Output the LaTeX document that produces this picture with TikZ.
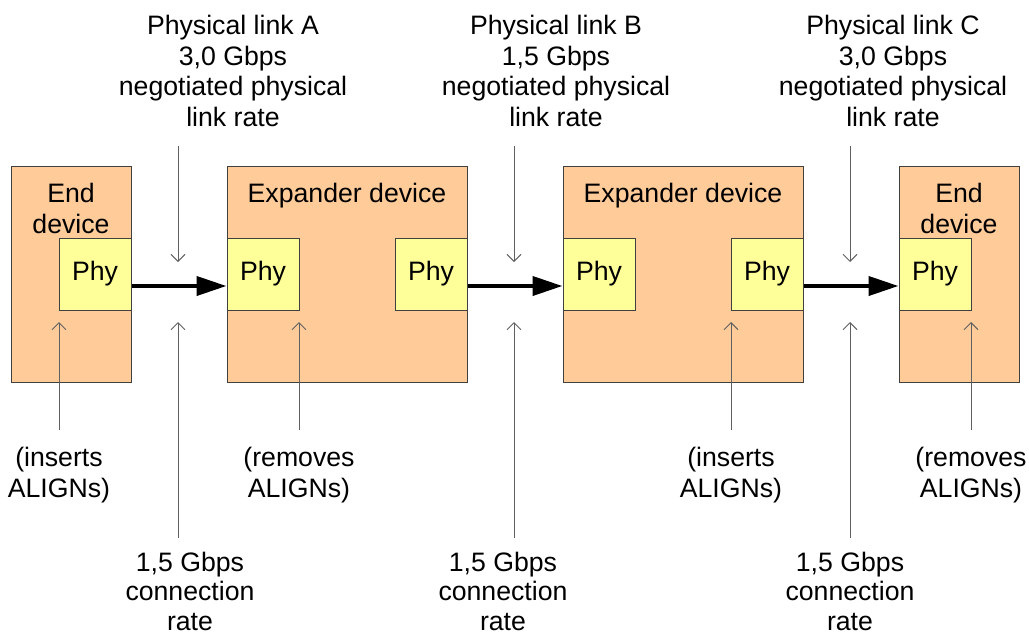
\documentclass[tikz,border=0pt]{standalone}
\usepackage{fontspec}
\setmainfont{Liberation Sans}
\usetikzlibrary{arrows.meta}
\definecolor{devfill}{HTML}{FFCC99}
\definecolor{phyfill}{HTML}{FFFF99}
\definecolor{edge}{HTML}{404040}
\definecolor{thin}{HTML}{606060}
\tikzset{
  txt/.style={font=\fontsize{20}{23}\selectfont, align=center, inner sep=0pt, anchor=north},
  btxt/.style={txt, font=\fontsize{20}{22}\selectfont},
  endbox/.style={draw=edge, line width=0.75pt, fill=devfill, minimum width=90pt, minimum height=162pt, inner sep=0pt},
  expbox/.style={endbox, minimum width=180pt},
  phybox/.style={draw=edge, line width=0.75pt, fill=phyfill, minimum width=54pt, minimum height=54pt, inner sep=0pt, font=\fontsize{20}{23}\selectfont},
  bigarrow/.style={line width=3pt, -{Triangle[length=22.5pt,width=14.25pt]}, shorten >=0pt},
  thinarrow/.style={draw=thin, line width=0.75pt, -{Straight Barb[length=5.25pt,width=10.5pt]}}
}
\begin{document}
\begin{tikzpicture}[x=0.75pt, y=-0.75pt]
\useasboundingbox (0,0) rectangle (1029,636);
% devices
\node[endbox] (ed1) at (71,274) {};
\node[expbox] (ex1) at (347,274) {};
\node[expbox] (ex2) at (683,274) {};
\node[endbox] (ed2) at (959,274) {};
% titles
\node[txt] (ed1t) at (71,183) {End\\device};
\node[txt] (ex1t) at (347,183) {Expander device};
\node[txt] (ex2t) at (683,183) {Expander device};
\node[txt] (ed2t) at (959,183) {End\\device};
% phys
\node[phybox] (p1) at (95,274) {Phy};
\node[phybox] (p2) at (263,274) {Phy};
\node[phybox] (p3) at (431,274) {Phy};
\node[phybox] (p4) at (599,274) {Phy};
\node[phybox] (p5) at (767,274) {Phy};
\node[phybox] (p6) at (935,274) {Phy};
% links
\draw[bigarrow] ([yshift=-9pt]p1.east) -- ([yshift=-9pt]p2.west);
\draw[bigarrow] ([yshift=-9pt]p3.east) -- ([yshift=-9pt]p4.west);
\draw[bigarrow] ([yshift=-9pt]p5.east) -- ([yshift=-9pt]p6.west);
% top labels
\node[txt] (la) at (233,15) {Physical link A\\3,0 Gbps\\negotiated physical\\link rate};
\node[txt] (lb) at (556,15) {Physical link B\\1,5 Gbps\\negotiated physical\\link rate};
\node[txt] (lc) at (893,15) {Physical link C\\3,0 Gbps\\negotiated physical\\link rate};
% bottom labels
\node[btxt] (ca) at (190,552) {1,5 Gbps\\connection\\rate};
\node[btxt] (cb) at (503,552) {1,5 Gbps\\connection\\rate};
\node[btxt] (cc) at (850,552) {1,5 Gbps\\connection\\rate};
\node[txt] (ia) at (59,447) {(inserts\\ALIGNs)};
\node[txt] (ra) at (299,447) {(removes\\ALIGNs)};
\node[txt] (ib) at (731,447) {(inserts\\ALIGNs)};
\node[txt] (rb) at (971,447) {(removes\\ALIGNs)};
% arrow coordinates
\coordinate (tA0) at (178,146); \coordinate (tA1) at (178,262);
\coordinate (tB0) at (514,146); \coordinate (tB1) at (514,262);
\coordinate (tC0) at (850,146); \coordinate (tC1) at (850,262);
\coordinate (bA0) at (178,538); \coordinate (bA1) at (178,322);
\coordinate (bB0) at (514,538); \coordinate (bB1) at (514,322);
\coordinate (bC0) at (850,538); \coordinate (bC1) at (850,322);
\coordinate (s10) at (59,430); \coordinate (s11) at (59,322);
\coordinate (s20) at (299,430); \coordinate (s21) at (299,322);
\coordinate (s30) at (731,430); \coordinate (s31) at (731,322);
\coordinate (s40) at (971,430); \coordinate (s41) at (971,322);
\foreach \a/\b in {tA0/tA1,tB0/tB1,tC0/tC1,bA0/bA1,bB0/bB1,bC0/bC1,s10/s11,s20/s21,s30/s31,s40/s41}
  \draw[thinarrow] (\a) -- (\b);
\end{tikzpicture}
\end{document}
